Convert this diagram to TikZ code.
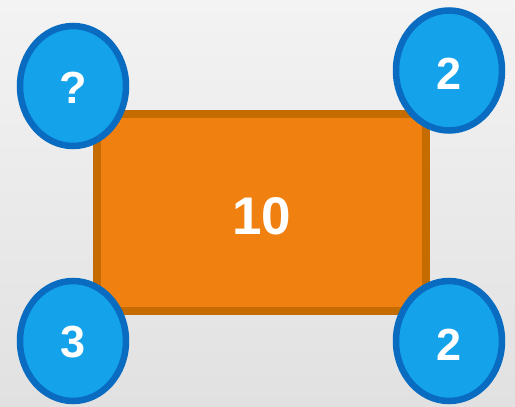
\documentclass[tikz,border=0pt]{standalone}
\usepackage{fontspec}
\setmainfont{Liberation Sans}
\usetikzlibrary{shapes.geometric}
\definecolor{bgtop}{HTML}{F3F3F3}
\definecolor{bgbot}{HTML}{E1E1E1}
\definecolor{boxfill}{HTML}{F08010}
\definecolor{boxline}{HTML}{C46C00}
\definecolor{ballfill}{HTML}{14A2EA}
\definecolor{ballline}{HTML}{0A6CC0}
\newcommand{\lowtext}[2]{\raisebox{-#1}[\height][0pt]{#2}}
\tikzset{
  bigbox/.style={draw=boxline, fill=boxfill, line width=8pt, minimum width=329pt, minimum height=197pt, inner sep=0pt, text=white, font=\fontsize{53}{53}\selectfont\bfseries},
  ball/.style={ellipse, draw=ballline, fill=ballfill, line width=6.5pt, minimum width=106pt, minimum height=120pt, inner sep=0pt, text=white, font=\fontsize{45}{45}\selectfont\bfseries}
}
\begin{document}
\begin{tikzpicture}[x=1pt,y=-1pt]
\shade[top color=bgtop, bottom color=bgbot] (0,0) rectangle (515,407);
\useasboundingbox (0,0) rectangle (515,407);
\node[bigbox] (box) at (261.5,212.5) {\lowtext{3.5pt}{10}};
\node[ball] (tl) at (73,86) {\lowtext{2pt}{?}};
\node[ball] (tr) at (449,70.5) {\lowtext{3.5pt}{2}};
\node[ball] (bl) at (73,341) {\lowtext{1pt}{3}};
\node[ball] (br) at (449,341) {\lowtext{4pt}{2}};
\end{tikzpicture}
\end{document}
